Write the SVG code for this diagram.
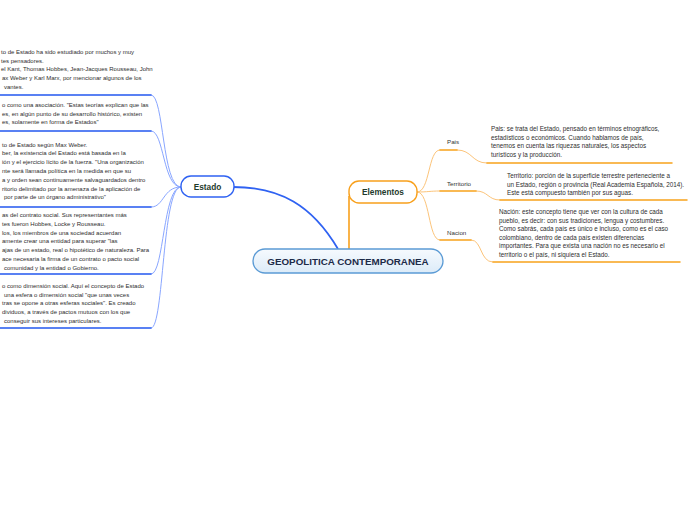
<svg xmlns="http://www.w3.org/2000/svg" width="696" height="520" viewBox="0 0 696 520">
<defs>
<linearGradient id="cg" x1="0" y1="0" x2="0" y2="1">
<stop offset="0" stop-color="#f6fafe"/>
<stop offset="1" stop-color="#dcebf8"/>
</linearGradient>
<style>
.t{font-family:"Liberation Sans",Arial,sans-serif;font-size:6px;fill:#2e2e2e}
.r{font-size:6.3px}
.lb{font-family:"Liberation Sans",Arial,sans-serif;font-size:6.2px;fill:#333}
.nt{font-family:"Liberation Sans",Arial,sans-serif;font-weight:bold;font-size:8.3px;fill:#1e3a2c;text-anchor:middle}
.ct{font-family:"Liberation Sans",Arial,sans-serif;font-weight:bold;font-size:9.8px;fill:#1c2a48;text-anchor:middle}
.ub{fill:none;stroke:#2358ef;stroke-width:1.5;stroke-linecap:round}
.cb{fill:none;stroke:#89a6ff;stroke-width:1}
.uo{fill:none;stroke:#f7a21b;stroke-width:1.5;stroke-linecap:round}
.co{fill:none;stroke:#fcc47a;stroke-width:1}
</style>
</defs>
<rect width="696" height="520" fill="#fff"/>

<g id="connectors">
<path d="M233,187 C280,187 312,205 338,249" fill="none" stroke="#2f62f2" stroke-width="1.8"/>
<path d="M349,196 L349,249" fill="none" stroke="#f8a01c" stroke-width="1.6"/>
<path class="cb" d="M151,95 C164,95 162,187 181,187"/>
<path class="cb" d="M151,131 C164,131 163,187 181,187"/>
<path class="cb" d="M151,207 C164,207 163,187 181,187"/>
<path class="cb" d="M151,274 C164,274 163,187 181,187"/>
<path class="cb" d="M151,328 C164,328 162,187 181,187"/>
<path class="co" d="M417,192 C430,192 428,150 440,150"/>
<path class="co" d="M417,192 C428,192 430,191 440,191"/>
<path class="co" d="M417,192 C430,192 428,240 440,240"/>
<path class="co" d="M457,150 C472,150 472,163 487,163"/>
<path class="co" d="M476,191 C488,191 488,200 500,200"/>
<path class="co" d="M471,240 C482,240 480,262 493,262"/>
</g>

<g id="center">
<rect x="253" y="249" width="190" height="24" rx="12" fill="url(#cg)" stroke="#5b9bd5" stroke-width="1.3"/>
<text class="ct" x="348" y="264.5">GEOPOLITICA CONTEMPORANEA</text>
</g>

<g id="estado">
<rect x="181" y="176" width="53" height="21" rx="10" fill="#fff" stroke="#2f62f2" stroke-width="1.4"/>
<text class="nt" x="207.5" y="189.5">Estado</text>
</g>

<g id="elementos">
<rect x="349" y="181" width="68" height="22" rx="10" fill="#fff" stroke="#f8a01c" stroke-width="1.4"/>
<text class="nt" x="383" y="195">Elementos</text>
</g>

<g id="estado-1">
<text class="t" x="1" y="54">to de Estado ha sido estudiado por muchos y muy</text>
<text class="t" x="1" y="62.7">tes pensadores.</text>
<text class="t" x="1" y="71.4">el Kant, Thomas Hobbes, Jean-Jacques Rousseau, John</text>
<text class="t" x="2" y="80.1">ax Weber y Karl Marx, por mencionar algunos de los</text>
<text class="t" x="4" y="88.8">vantes.</text>
<path class="ub" d="M0,95 H151"/>
</g>

<g id="estado-2">
<text class="t" x="2" y="107">o como una asociación. "Estas teorías explican que las</text>
<text class="t" x="2" y="115.7">es, en algún punto de su desarrollo histórico, existen</text>
<text class="t" x="2" y="124.4">es, solamente en forma de Estados"</text>
<path class="ub" d="M0,131 H151"/>
</g>

<g id="estado-3">
<text class="t" x="2" y="146.5">to de Estado según Max Weber.</text>
<text class="t" x="2" y="155.3">ber, la existencia del Estado está basada en la</text>
<text class="t" x="2" y="164.1">ión y el ejercicio lícito de la fuerza. "Una organización</text>
<text class="t" x="2" y="172.9">nte será llamada política en la medida en que su</text>
<text class="t" x="2" y="181.7">a y orden sean continuamente salvaguardados dentro</text>
<text class="t" x="2" y="190.5">ritorio delimitado por la amenaza de la aplicación de</text>
<text class="t" x="4" y="199.3">por parte de un órgano administrativo"</text>
<path class="ub" d="M0,207 H151"/>
</g>

<g id="estado-4">
<text class="t" x="2" y="217">as del contrato social. Sus representantes más</text>
<text class="t" x="2" y="225.8">tes fueron Hobbes, Locke y Rousseau.</text>
<text class="t" x="2" y="234.6">los, los miembros de una sociedad acuerdan</text>
<text class="t" x="2" y="243.4">amente crear una entidad para superar "las</text>
<text class="t" x="2" y="252.2">ajas de un estado, real o hipotético de naturaleza. Para</text>
<text class="t" x="2" y="261">ace necesaria la firma de un contrato o pacto social</text>
<text class="t" x="4" y="269.8">comunidad y la entidad o Gobierno.</text>
<path class="ub" d="M0,274 H151"/>
</g>

<g id="estado-5">
<text class="t" x="2" y="288">o como dimensión social. Aquí el concepto de Estado</text>
<text class="t" x="4" y="296.7">una esfera o dimensión social "que unas veces</text>
<text class="t" x="2" y="305.4">tras se opone a otras esferas sociales". Es creado</text>
<text class="t" x="2" y="314.1">dividuos, a través de pactos mutuos con los que</text>
<text class="t" x="4" y="322.8">conseguir sus intereses particulares.</text>
<path class="ub" d="M0,328 H151"/>
</g>

<g id="pais">
<text class="lb" x="447" y="144">Pais</text>
<path class="uo" d="M440,150 H457"/>
</g>
<g id="pais-text">
<text class="t r" x="491" y="131">Pais: se trata del Estado, pensado en términos etnográficos,</text>
<text class="t r" x="491" y="139.7">estadísticos o económicos. Cuando hablamos de país,</text>
<text class="t r" x="491" y="148.4">tenemos en cuenta las riquezas naturales, los aspectos</text>
<text class="t r" x="491" y="157.1">turísticos y la producción.</text>
<path class="uo" d="M487,163 H672"/>
</g>

<g id="territorio">
<text class="lb" x="447" y="186">Territorio</text>
<path class="uo" d="M440,191 H476"/>
</g>
<g id="territorio-text">
<text class="t r" x="507" y="178">Territorio: porción de la superficie terrestre perteneciente a</text>
<text class="t r" x="507" y="186.7">un Estado, región o provincia (Real Academia Española, 2014).</text>
<text class="t r" x="507" y="195.4">Este está compuesto también por sus aguas.</text>
<path class="uo" d="M500,200 H687"/>
</g>

<g id="nacion">
<text class="lb" x="447" y="235">Nacion</text>
<path class="uo" d="M440,240 H471"/>
</g>
<g id="nacion-text">
<text class="t r" x="499" y="214">Nación: este concepto tiene que ver con la cultura de cada</text>
<text class="t r" x="499" y="222.6">pueblo, es decir: con sus tradiciones, lengua y costumbres.</text>
<text class="t r" x="499" y="231.2">Como sabrás, cada país es único e incluso, como es el caso</text>
<text class="t r" x="499" y="239.8">colombiano, dentro de cada país existen diferencias</text>
<text class="t r" x="499" y="248.4">importantes. Para que exista una nación no es necesario el</text>
<text class="t r" x="499" y="257">territorio o el país, ni siquiera el Estado.</text>
<path class="uo" d="M493,262 H680"/>
</g>
</svg>
